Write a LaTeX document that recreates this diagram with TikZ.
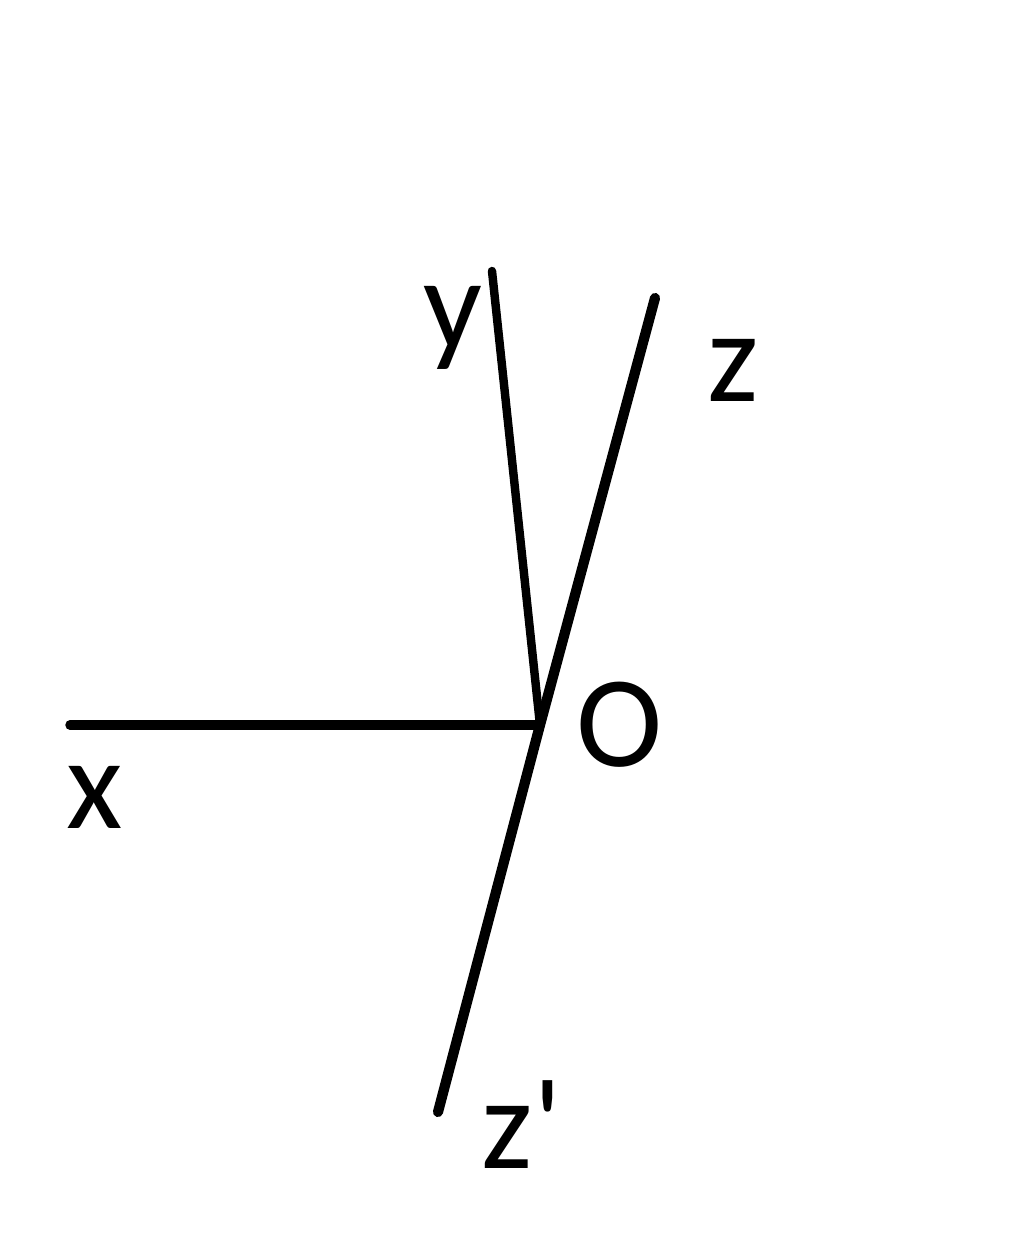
\documentclass[tikz,border=0pt]{standalone}
\usepackage{fontspec}
\setmainfont{Carlito}
\begin{document}
\begin{tikzpicture}[x=0.01cm,y=-0.01cm,
  axis/.style={line width=2.7pt,line cap=round},
  lbl/.style={font=\fontsize{37}{40}\selectfont,inner sep=0pt}]
\useasboundingbox (0,0) rectangle (1024,1251);
\coordinate (O) at (540,725);
\coordinate (X) at (70,725);
\coordinate (Y) at (492,271);
\coordinate (Z) at (655,298);
\coordinate (Zp) at (438,1112);
\draw[axis] (X) -- (O);
\draw[axis,line width=2.4pt] (Y) -- (O);
\draw[axis,line width=2.9pt] (Z) -- (O) -- (Zp);
\node[lbl] (ly) at (453,328) {y};
\node[lbl] (lz) at (733,370) {z};
\node[lbl] (lO) at (620,725) {O};
\node[lbl] (lx) at (95,797) {x};
\node[lbl] (lzp) at (522,1125) {z\textquotesingle};
\end{tikzpicture}
\end{document}
